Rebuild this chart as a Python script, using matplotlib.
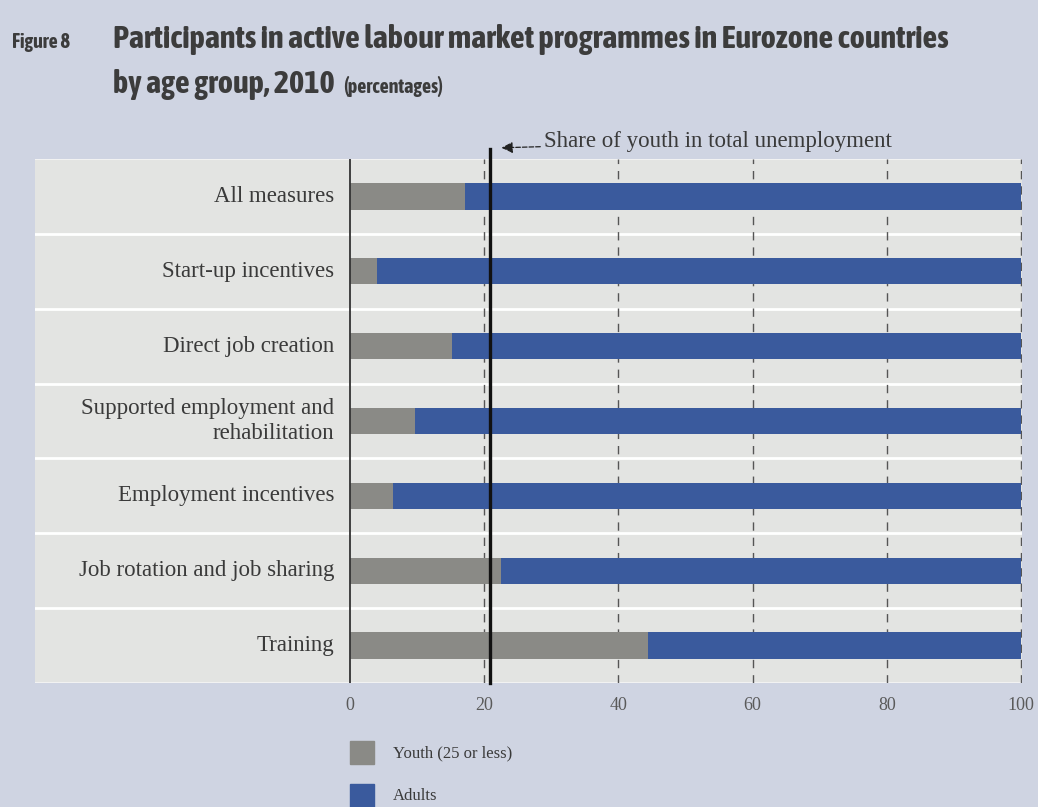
import matplotlib
matplotlib.use("Agg")
import matplotlib.pyplot as plt
from matplotlib.patches import Rectangle
from matplotlib import font_manager

categories = ["All measures", "Start-up incentives", "Direct job creation",
              "Supported employment and\nrehabilitation", "Employment incentives",
              "Job rotation and job sharing", "Training"]
youth = [17.1, 4.0, 15.2, 9.7, 6.4, 22.5, 44.4]
adults = [100 - v for v in youth]
youth_share_unemployment = 20.9
xticks = [0, 20, 40, 60, 80, 100]


def weight_num(w):
    return w if isinstance(w, int) else font_manager.weight_dict.get(w, 400)


# pick a bold condensed face for the title if one is installed
fonts = font_manager.fontManager.ttflist
narrow = [f for f in fonts if "Narrow" in f.name or "Condensed" in f.name]
bold_narrow = [f for f in narrow if weight_num(f.weight) >= 600]
title_family, title_stretch = "Liberation Sans", "normal"
if bold_narrow:
    title_family = bold_narrow[0].name
elif any(f.name == "DejaVu Sans" and "condensed" in str(f.stretch)
         and weight_num(f.weight) >= 600 for f in fonts):
    title_family, title_stretch = "DejaVu Sans", "condensed"
elif narrow:
    title_family = narrow[0].name
serif_font = "Liberation Serif"

bg = "#CFD4E2"
panel = "#E3E4E2"
grey = "#8A8A86"
blue = "#3A5A9D"
txt = "#3A3A3A"
title_col = "#3C3C3C"

W, H = 1038, 807
fig = plt.figure(figsize=(W / 100, H / 100), dpi=100, facecolor=bg)

# axes over the light panel (pixels 35..1022 x, 159..683 y)
ax = fig.add_axes([35 / W, 1 - 683 / H, (1022 - 35) / W, (683 - 159) / H])
ax.set_facecolor(panel)
ax.set_xlim(-46.9, 100.15)
ax.set_ylim(6.5, -0.5)

y = range(len(categories))
ax.barh(y, youth, height=0.35, color=grey, zorder=3)
ax.barh(y, adults, left=youth, height=0.35, color=blue, zorder=3)

for i in range(len(categories) - 1):
    ax.axhline(i + 0.5, color="white", lw=2, zorder=1)
ax.axhline(-0.5, color="#F2F2F2", lw=1.5, zorder=1)
ax.axhline(6.5, color="#F2F2F2", lw=1.5, zorder=1)

for t in xticks[1:]:
    ax.axvline(t, color="#555555", lw=1, ls=(0, (6, 5)), zorder=2)
ax.axvline(0, color="#333333", lw=1.3, zorder=4)
ax.plot([youth_share_unemployment] * 2, [-0.63, 6.5], color="#111111", lw=2.4,
        zorder=5, clip_on=False)

for i, c in enumerate(categories):
    ax.text(-2.3, i, c, ha="right", va="center", fontsize=16.5,
            family=serif_font, color=txt, linespacing=1.2, zorder=6)

ax.annotate("Share of youth in total unemployment", xy=(22.6, -0.65),
            xytext=(29.0, -0.73), fontsize=16.5, family=serif_font, color=txt,
            va="center", ha="left", annotation_clip=False,
            arrowprops=dict(arrowstyle="-|>", ls="--", color="#222222", lw=0.9,
                            shrinkA=1, shrinkB=0))

ax.set_xticks(xticks)
ax.set_xticklabels([str(t) for t in xticks], family=serif_font, fontsize=13,
                   color="#5A5A5A")
ax.tick_params(axis="x", length=0, pad=10)
ax.set_yticks([])
for s in ax.spines.values():
    s.set_visible(False)

# legend
for (yy, col, lab) in [(741, grey, "Youth (25 or less)"), (784, blue, "Adults")]:
    fig.add_artist(Rectangle((350 / W, 1 - (yy + 23) / H), 24 / W, 23 / H,
                             color=col, transform=fig.transFigure))
    fig.text(393 / W, 1 - (yy + 12) / H, lab, family=serif_font, fontsize=12,
             color=txt, va="center")

# title, sized to the reference width
tkw = dict(family=title_family, stretch=title_stretch, weight="bold",
           color=title_col, va="baseline")
t1 = fig.text(113 / W, 1 - 48 / H,
              "Participants in active labour market programmes in Eurozone countries",
              fontsize=20, **tkw)
fig.canvas.draw()
r = fig.canvas.get_renderer()
fs = 20 * 834 / t1.get_window_extent(r).width
t1.set_fontsize(fs)
t2 = fig.text(113 / W, 1 - 93 / H, "by age group, 2010", fontsize=fs, **tkw)
f8 = fig.text(12 / W, 1 - 48 / H, "Figure 8", fontsize=fs * 0.62, **tkw)
fig.canvas.draw()
x_end = t2.get_window_extent(r).x1
fig.text((x_end + 8) / W, 1 - 93 / H, "(percentages)", fontsize=fs * 0.62, **tkw)

fig.savefig("out.png", dpi=100, facecolor=bg)
